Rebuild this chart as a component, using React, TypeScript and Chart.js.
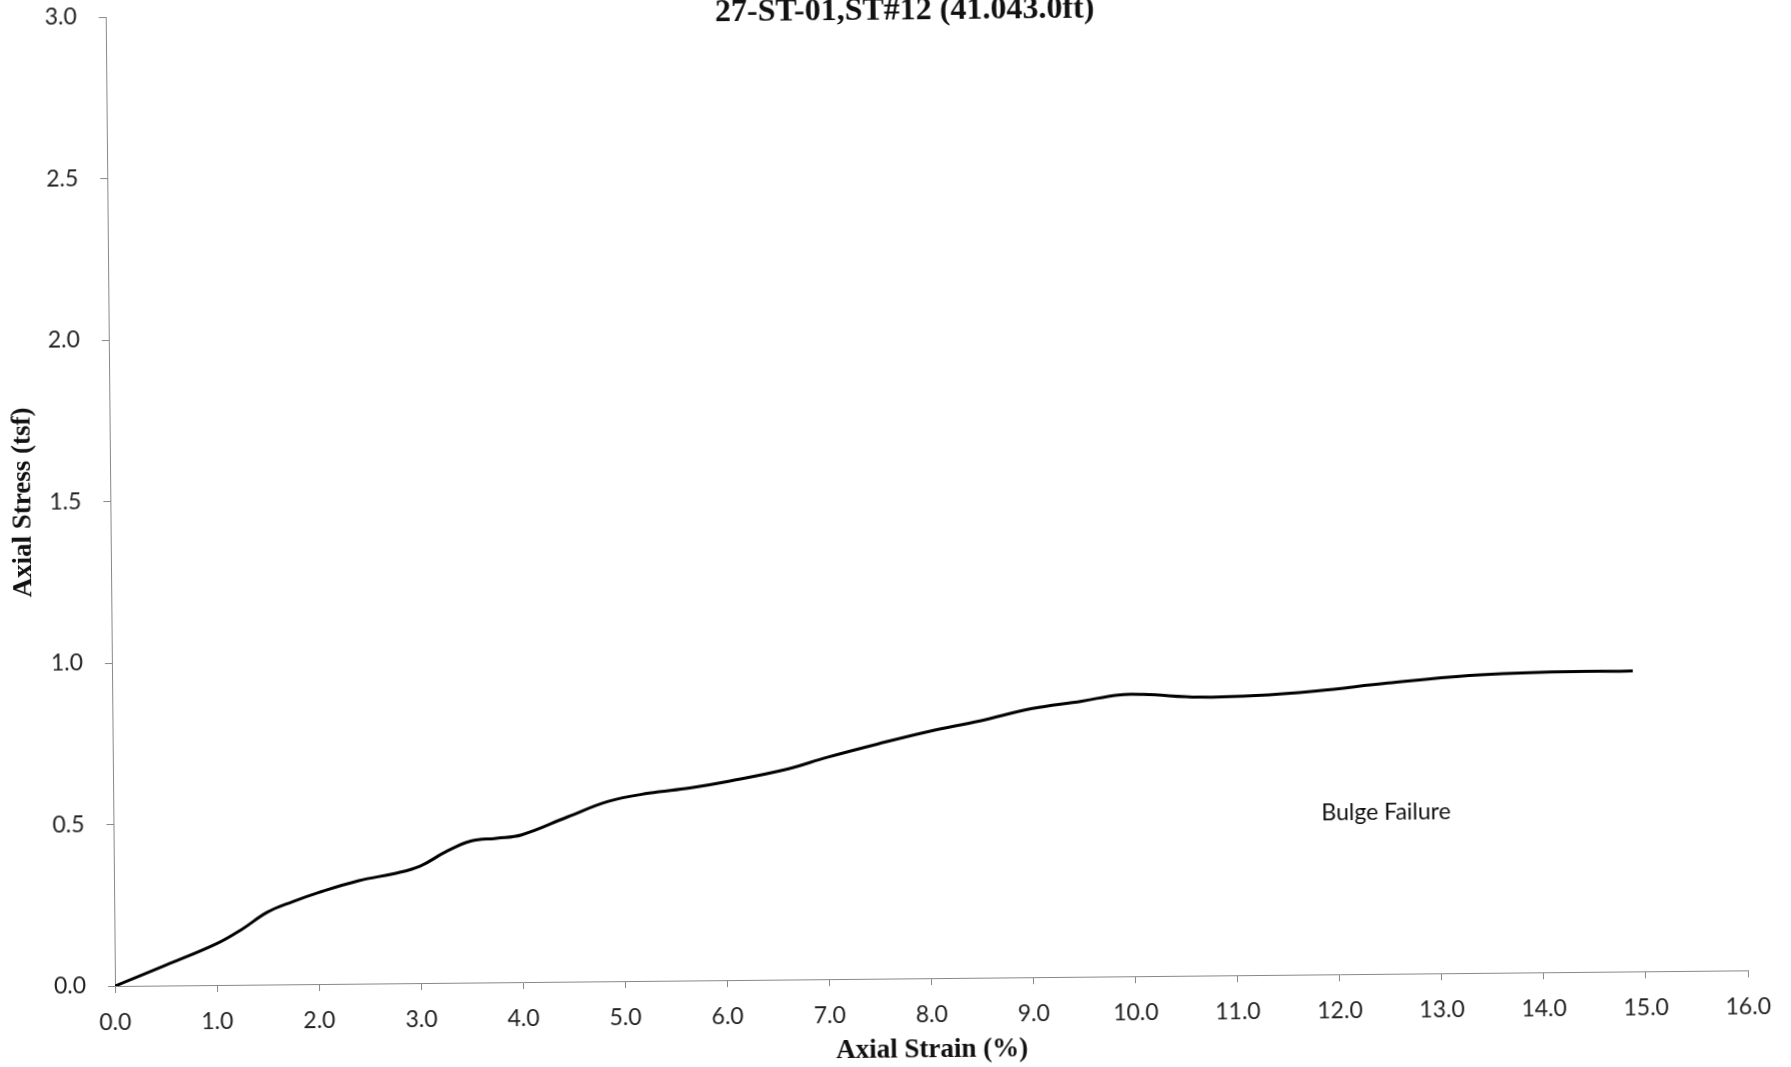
import React, { useEffect, useRef } from "react";
import { Chart, registerables } from "chart.js";

Chart.register(...registerables);

const chartTitle = "27-ST-01,ST#12 (41.043.0ft)";
const xAxisTitle = "Axial Strain (%)";
const yAxisTitle = "Axial Stress (tsf)";
const annotationText = "Bulge Failure";
const annotationX = 12.47;
const annotationY = 0.5;

const strain = [
  0, 0.5, 1.0, 1.25, 1.5, 1.75, 2.0, 2.4, 2.75, 3.0, 3.25, 3.5, 3.75, 4.0,
  4.45, 4.85, 5.25, 5.65, 6.0, 6.6, 7.0, 7.5, 8.0, 8.5, 9.0, 9.5, 9.85, 10.1,
  10.65, 11.2, 11.8, 12.5, 13.3, 14.0, 14.9,
];
const stress = [
  0, 0.063, 0.128, 0.172, 0.224, 0.256, 0.283, 0.319, 0.34, 0.362, 0.405, 0.438,
  0.446, 0.456, 0.51, 0.557, 0.581, 0.596, 0.614, 0.651, 0.687, 0.727, 0.764,
  0.795, 0.831, 0.853, 0.871, 0.872, 0.862, 0.865, 0.878, 0.9, 0.921, 0.929,
  0.93,
];

const xTickMin = 0;
const xTickMax = 16;
const xTickStep = 1;
const yTickMin = 0;
const yTickMax = 3;
const yTickStep = 0.5;

const W = 1791;
const H = 1067;
const EXTRA = 20;

export default function App() {
  const ref = useRef<HTMLCanvasElement | null>(null);

  useEffect(() => {
    if (!ref.current) return;
    const textPlugin = {
      id: "textPlugin",
      afterDraw(chart: any) {
        const ctx = chart.ctx;
        ctx.save();
        ctx.fillStyle = "#111";
        ctx.textAlign = "center";
        ctx.textBaseline = "middle";
        ctx.font = "bold 32px 'Liberation Serif'";
        ctx.fillText(chartTitle, 914, 19);
        const xs = chart.scales.x;
        const ys = chart.scales.y;
        ctx.font = "23px Lato";
        ctx.fillText(
          annotationText,
          xs.getPixelForValue(annotationX),
          ys.getPixelForValue(annotationY)
        );
        ctx.restore();
      },
    };

    const chart = new Chart(ref.current, {
      type: "line",
      data: {
        datasets: [
          {
            data: strain.map((s, i) => ({ x: s, y: stress[i] })),
            borderColor: "#000",
            borderWidth: 3,
            pointRadius: 0,
            fill: false,
            tension: 0.4,
          },
        ],
      },
      options: {
        animation: false,
        responsive: false,
        maintainAspectRatio: false,
        layout: { padding: { top: 17, right: 43, left: 0, bottom: EXTRA - 7 } },
        plugins: {
          legend: { display: false },
          title: { display: false },
          tooltip: { enabled: false },
        },
        scales: {
          x: {
            type: "linear",
            min: xTickMin,
            max: xTickMax,
            ticks: {
              stepSize: xTickStep,
              callback: (v: any) => Number(v).toFixed(1),
              font: { family: "Lato", size: 23 },
              color: "#222",
              padding: 16,
              maxRotation: 0,
            },
            grid: {
              drawOnChartArea: false,
              drawTicks: true,
              tickLength: 7,
              color: "#888",
            },
            border: { color: "#888", width: 1 },
            title: {
              display: true,
              text: xAxisTitle,
              font: { family: "'Liberation Serif'", size: 27, weight: "bold" },
              color: "#111",
              padding: { top: 0, bottom: 0 },
            },
            afterFit: (scale: any) => {
              scale.height = 88;
            },
          },
          y: {
            type: "linear",
            min: yTickMin,
            max: yTickMax,
            ticks: {
              stepSize: yTickStep,
              callback: (v: any) => Number(v).toFixed(1),
              font: { family: "Lato", size: 23 },
              color: "#222",
              padding: 22,
            },
            grid: {
              drawOnChartArea: false,
              drawTicks: true,
              tickLength: 7,
              color: "#888",
            },
            border: { color: "#888", width: 1 },
            title: {
              display: true,
              text: yAxisTitle,
              font: { family: "'Liberation Serif'", size: 27, weight: "bold" },
              color: "#111",
              padding: { top: 12, bottom: 0 },
            },
            afterFit: (scale: any) => {
              scale.width = 115;
              scale.paddingTop = 0;
              scale.paddingBottom = 0;
            },
          },
        },
      },
      plugins: [textPlugin],
    } as any);

    return () => chart.destroy();
  }, []);

  return (
    <div
      style={{
        position: "fixed",
        left: 0,
        top: 0,
        width: W,
        height: H,
        background: "#fff",
        overflow: "hidden",
      }}
    >
      <canvas
        ref={ref}
        width={W}
        height={H + EXTRA}
        style={{
          display: "block",
          width: W,
          height: H + EXTRA,
          transform: "rotate(-0.55deg)",
          transformOrigin: "115px 986px",
        }}
      />
    </div>
  );
}
